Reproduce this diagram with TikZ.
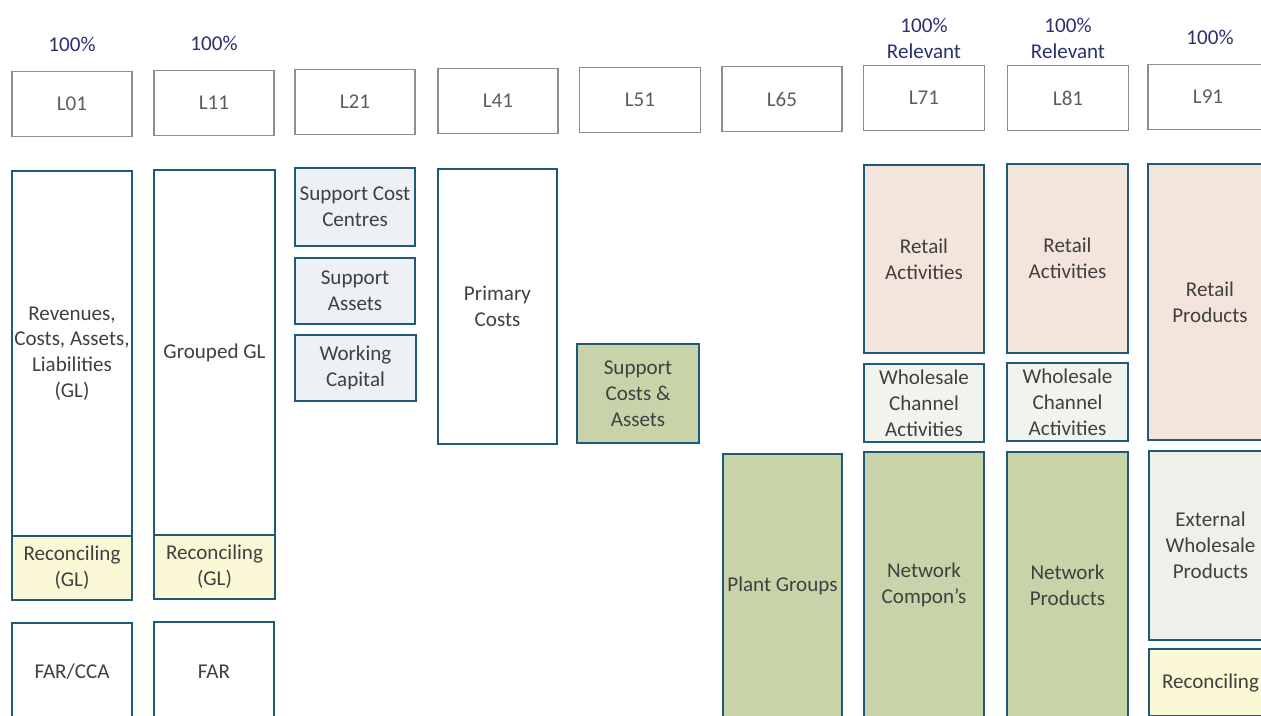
\documentclass[tikz,border=0pt]{standalone}
\usepackage{fontspec}
\setmainfont{Carlito}
\usepackage{xcolor}
\usetikzlibrary{positioning}
\definecolor{boxframe}{HTML}{1F5A78}
\definecolor{hdrframe}{HTML}{8E8E8E}
\definecolor{pctblue}{HTML}{2B306C}
\definecolor{boxtext}{HTML}{404040}
\definecolor{reconfill}{HTML}{FBF8D6}
\definecolor{plantfill}{HTML}{C9D3A9}
\definecolor{retailfill}{HTML}{F3E5DC}
\definecolor{whslfill}{HTML}{F1F3EC}
\definecolor{suppfill}{HTML}{EDF0F5}
\definecolor{extfill}{HTML}{EEF0EA}
\newcommand{\px}{0.02cm}
\newcommand{\bnode}[6]{\node [#2, minimum width=#4*\px, minimum height=#5*\px] (#1) at (#3) {#6}}

\tikzset{
  base/.style={rectangle, align=center, inner sep=1pt, text=boxtext,
    font=\fontsize{12}{14.7}\selectfont},
  hdr/.style={base, draw=hdrframe, line width=1pt, text=boxtext!85},
  cell/.style={base, draw=boxframe, line width=1.3pt, fill=white},
  pct/.style={align=center, inner sep=0pt, text=pctblue,
    font=\fontsize{12}{14.7}\selectfont}
}

\begin{document}
\begin{tikzpicture}[x=\px, y=-\px]

\useasboundingbox (0,0) rectangle (1261,716);
\clip (0,0) rectangle (1261,716);

% column heads
\bnode{L01}{hdr}{72,104}{120}{65}{L01};
\bnode{L11}{hdr}{214,103}{120}{65}{L11};
\bnode{L21}{hdr}{355,102}{120}{65}{L21};
\bnode{L41}{hdr}{498,101}{120}{65}{L41};
\bnode{L51}{hdr}{640,100}{121}{65}{L51};
\bnode{L65}{hdr}{782,99}{120}{65}{L65};
\bnode{L71}{hdr}{924,98}{121}{65}{L71};
\bnode{L81}{hdr}{1068,98}{121}{65}{L81};
\bnode{L91}{hdr}{1208,97}{120}{65}{L91};

\node [pct] (P01) at (72,44) {100\%};
\node [pct] (P11) at (214,43) {100\%};
\node [pct] (P71) at (924,38) {100\%\\Relevant};
\node [pct] (P81) at (1068,38) {100\%\\Relevant};
\node [pct] (P91) at (1210,37) {100\%};

% L01 and L11
\bnode{REV}{cell}{72,353.5}{120}{365}{Revenues,\\Costs, Assets,\\Liabilities\\(GL)};
\bnode{REC01}{cell, fill=reconfill}{72,568}{120}{64}{Reconciling\\(GL)};
\bnode{FAR01}{cell}{72,672}{120}{98}{FAR/CCA};
\bnode{GGL}{cell}{214.5,352.5}{121}{365}{Grouped GL};
\bnode{REC11}{cell, fill=reconfill}{214.5,567}{121}{64}{Reconciling\\(GL)};
\bnode{FAR11}{cell}{214,671.5}{120}{99}{FAR};

% L21, L41, L51, L65
\bnode{SCC}{cell, fill=suppfill}{355,207}{120}{78}{Support Cost\\Centres};
\bnode{SA}{cell, fill=suppfill}{355,291}{120}{66}{Support\\Assets};
\bnode{WC}{cell, fill=suppfill}{355.5,368}{121}{66}{Working\\Capital};
\bnode{PRIM}{cell}{497.5,306.5}{119}{275}{Primary\\Costs};
\bnode{SCA}{cell, fill=plantfill}{638,393.5}{122}{99}{Support\\Costs \&\\Assets};
\bnode{PLANT}{cell, fill=plantfill}{782.5,586}{119}{264}{Plant Groups};

% L71
\bnode{RET71}{cell, fill=retailfill}{924,259}{120}{188}{Retail\\Activities};
\bnode{WCA71}{cell, fill=whslfill}{924,403}{120}{78}{Wholesale\\Channel\\Activities};
\bnode{NET71}{cell, fill=plantfill}{924,585}{120}{266}{Network\\Compon’s};

% L81
\bnode{RET81}{cell, fill=retailfill}{1067.5,258.5}{121}{189}{Retail\\Activities};
\bnode{WCA81}{cell, fill=whslfill}{1067.5,402}{121}{78}{Wholesale\\Channel\\Activities};
\bnode{NET81}{cell, fill=plantfill}{1067.5,585}{121}{266}{Network\\Products};

% L91
\bnode{RET91}{cell, fill=retailfill}{1210,302}{124}{276}{Retail\\Products};
\bnode{EXT91}{cell, fill=extfill}{1210.5,545.5}{123}{189}{External\\Wholesale\\Products};
\bnode{REC91}{cell, fill=reconfill}{1210.5,682.5}{123}{67}{Reconciling};

\end{tikzpicture}
\end{document}
